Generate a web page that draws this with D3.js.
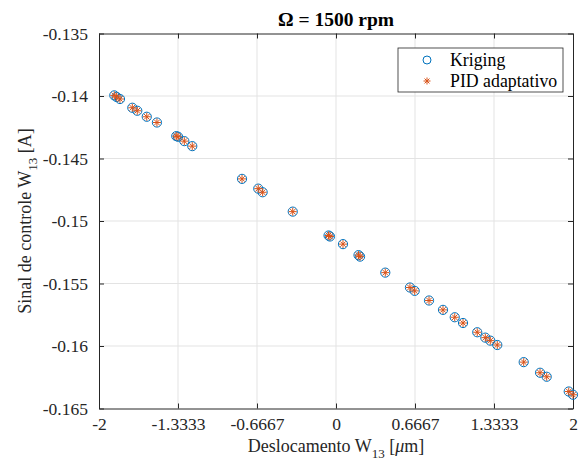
<!DOCTYPE html>
<html>
<head>
<meta charset="utf-8">
<script src="https://cdn.jsdelivr.net/npm/d3@7"></script>
<style>
    body { margin: 0; background: #fff; }
    svg { display: block; }
    .grid line { stroke: #e3e3e3; stroke-width: 1; }
    .axis path, .axis line { stroke: #262626; }
</style>
</head>
<body>
<script>
(function(){

    //values
    var xValues = [-1.871, -1.851, -1.823, -1.719, -1.677, -1.597, -1.511, -1.348, -1.333, -1.280,
                   -1.213, -0.793, -0.656, -0.619, -0.365, -0.063, -0.051, 0.059, 0.190, 0.203,
                   0.416, 0.624, 0.664, 0.785, 0.903, 1.002, 1.072, 1.192, 1.260, 1.302,
                   1.361, 1.584, 1.722, 1.778, 1.964, 2.000];
    var krigingValues = [-0.13995, -0.14008, -0.14024, -0.14094, -0.14118, -0.14166, -0.14212, -0.14321, -0.14326, -0.14361,
                         -0.14401, -0.14663, -0.14741, -0.14770, -0.14925, -0.15116, -0.15124, -0.15185, -0.15273, -0.15285,
                         -0.15413, -0.15532, -0.15559, -0.15636, -0.15711, -0.15770, -0.15816, -0.15890, -0.15933, -0.15957,
                         -0.15992, -0.16129, -0.16214, -0.16246, -0.16364, -0.16390];
    var pidValues = [-0.13995, -0.14008, -0.14024, -0.14094, -0.14118, -0.14166, -0.14212, -0.14321, -0.14326, -0.14361,
                     -0.14401, -0.14663, -0.14741, -0.14770, -0.14925, -0.15116, -0.15124, -0.15185, -0.15273, -0.15285,
                     -0.15413, -0.15532, -0.15559, -0.15636, -0.15711, -0.15770, -0.15816, -0.15890, -0.15933, -0.15957,
                     -0.15992, -0.16129, -0.16214, -0.16246, -0.16364, -0.16390];
    var xTicks = [-2, -4/3, -2/3, 0, 2/3, 4/3, 2];
    var xTickLabels = ["-2", "-1.3333", "-0.6667", "0", "0.6667", "1.3333", "2"];
    var yTicks = [-0.165, -0.16, -0.155, -0.15, -0.145, -0.14, -0.135];
    var yTickLabels = ["-0.165", "-0.16", "-0.155", "-0.15", "-0.145", "-0.14", "-0.135"];
    var seriesNames = ["Kriging", "PID adaptativo"];

    var width = 583, height = 464,
        left = 99, right = 573, top = 33.5, bottom = 408.5,
        font = "'Liberation Serif', 'Times New Roman', serif";

    var svg = d3.select("body").append("svg")
        .attr("width", width)
        .attr("height", height)
        .style("font-family", font);

    var x = d3.scaleLinear().domain([-2, 2]).range([left, right]);
    var y = d3.scaleLinear().domain([-0.165, -0.135]).range([bottom, top]);

    //grid lines
    var grid = svg.append("g").attr("class", "grid");
    grid.selectAll(".gx")
        .data(xTicks.slice(1, -1))
        .enter().append("line")
        .attr("x1", function(d){ return x(d); })
        .attr("x2", function(d){ return x(d); })
        .attr("y1", top).attr("y2", bottom);
    grid.selectAll(".gy")
        .data(yTicks.slice(1, -1))
        .enter().append("line")
        .attr("y1", function(d){ return y(d); })
        .attr("y2", function(d){ return y(d); })
        .attr("x1", left).attr("x2", right);

    //axes, ticks pointing inward
    var xAxis = d3.axisBottom(x).tickValues(xTicks)
        .tickFormat(function(d, i){ return xTickLabels[i]; })
        .tickSizeInner(-5).tickSizeOuter(0).tickPadding(9);
    var yAxis = d3.axisLeft(y).tickValues(yTicks)
        .tickFormat(function(d, i){ return yTickLabels[i]; })
        .tickSizeInner(-5).tickSizeOuter(0).tickPadding(11);

    var gx = svg.append("g").attr("class", "axis")
        .attr("transform", "translate(0," + bottom + ")")
        .call(xAxis);
    var gy = svg.append("g").attr("class", "axis")
        .attr("transform", "translate(" + left + ",0)")
        .call(yAxis);
    [gx, gy].forEach(function(g){
        g.attr("font-family", font).attr("font-size", 17.5);
        g.selectAll("text").attr("fill", "#262626");
    });
    svg.append("g").attr("class", "axis")
        .attr("transform", "translate(0," + top + ")")
        .call(d3.axisTop(x).tickValues(xTicks).tickSizeInner(-5).tickSizeOuter(0).tickFormat(""));
    svg.append("g").attr("class", "axis")
        .attr("transform", "translate(" + right + ",0)")
        .call(d3.axisRight(y).tickValues(yTicks).tickSizeInner(-5).tickSizeOuter(0).tickFormat(""));

    //kriging circles
    svg.append("g").selectAll("circle")
        .data(xValues)
        .enter().append("circle")
        .attr("cx", function(d){ return x(d); })
        .attr("cy", function(d, i){ return y(krigingValues[i]); })
        .attr("r", 4.6)
        .attr("fill", "none")
        .attr("stroke", "#0072BD")
        .attr("stroke-width", 1);

    //asterisk marker
    function asterisk(g, cx, cy, r){
        var a = [[-r, 0, r, 0], [0, -r, 0, r],
                 [-r*0.7, -r*0.7, r*0.7, r*0.7], [-r*0.7, r*0.7, r*0.7, -r*0.7]];
        a.forEach(function(s){
            g.append("line")
                .attr("x1", cx + s[0]).attr("y1", cy + s[1])
                .attr("x2", cx + s[2]).attr("y2", cy + s[3])
                .attr("stroke", "#D95319")
                .attr("stroke-width", 1);
        });
    }
    var pid = svg.append("g");
    xValues.forEach(function(d, i){
        asterisk(pid, x(d), y(pidValues[i]), 4);
    });

    //legend
    var legend = svg.append("g");
    legend.append("rect")
        .attr("x", 398).attr("y", 48)
        .attr("width", 165).attr("height", 44)
        .attr("fill", "#fff")
        .attr("stroke", "#262626")
        .attr("stroke-width", 0.8);
    legend.append("circle")
        .attr("cx", 427).attr("cy", 60).attr("r", 4)
        .attr("fill", "none").attr("stroke", "#0072BD");
    asterisk(legend, 427, 81, 3.5);
    legend.selectAll("text")
        .data(seriesNames)
        .enter().append("text")
        .attr("x", 450)
        .attr("y", function(d, i){ return 65.5 + i * 21.5; })
        .attr("font-size", 17.8)
        .attr("fill", "#000")
        .text(function(d){ return d; });

    //title
    svg.append("text")
        .attr("x", (left + right) / 2).attr("y", 26)
        .attr("text-anchor", "middle")
        .attr("font-size", 19.5).attr("font-weight", "bold")
        .text("\u03A9 = 1500 rpm");

    //x label
    var xl = svg.append("text")
        .attr("x", (left + right) / 2).attr("y", 452)
        .attr("text-anchor", "middle")
        .attr("font-size", 18).attr("fill", "#262626");
    xl.append("tspan").text("Deslocamento W");
    xl.append("tspan").attr("dy", 6).attr("font-size", 13).text("13");
    xl.append("tspan").attr("dy", -6).text(" [");
    xl.append("tspan").attr("font-style", "italic").text("\u03BC");
    xl.append("tspan").text("m]");

    //y label
    var yl = svg.append("text")
        .attr("transform", "translate(31," + ((top + bottom) / 2) + ") rotate(-90)")
        .attr("text-anchor", "middle")
        .attr("font-size", 18).attr("fill", "#262626");
    yl.append("tspan").text("Sinal de controle W");
    yl.append("tspan").attr("dy", 6).attr("font-size", 13).text("13");
    yl.append("tspan").attr("dy", -6).text(" [A]");

})();
</script>
</body>
</html>
